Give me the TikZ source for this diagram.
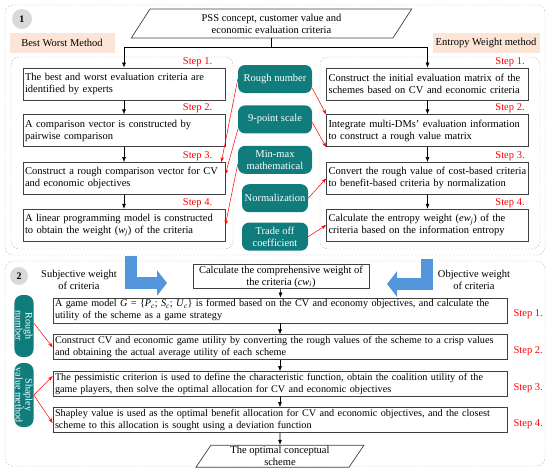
\documentclass[tikz,border=0pt]{standalone}
\usepackage{fontspec}
\setmainfont{Liberation Serif}
\usetikzlibrary{shapes.geometric,arrows.meta,positioning}
\definecolor{tealbox}{RGB}{16,124,124}
\definecolor{peach}{RGB}{252,229,214}
\definecolor{circgray}{RGB}{217,217,217}
\definecolor{panelgray}{RGB}{190,190,190}
\definecolor{arrowblue}{RGB}{84,150,220}
\definecolor{stepred}{RGB}{255,0,0}

\begin{document}
\begin{tikzpicture}[x=1pt, y=-1pt,
    font=\fontsize{10.5}{12}\selectfont,
    panel/.style={draw=panelgray, dash pattern=on 2pt off 1.5pt, rounded corners=8pt},
    stepbox/.style={rectangle, draw=black!75, line width=0.7pt, align=left,
        inner xsep=2pt, inner ysep=1pt, minimum height=32pt, text width=198pt},
    gamebox/.style={rectangle, draw=black!75, line width=0.8pt, align=left,
        inner xsep=2pt, inner ysep=1pt, minimum height=25pt, text width=450pt,
        font=\fontsize{10.2}{12}\selectfont},
    tealnode/.style={rectangle, rounded corners=7pt, fill=tealbox, text=white,
        align=center, inner sep=1pt, minimum height=28pt},
    pgram/.style={trapezium, trapezium left angle=63, trapezium right angle=117,
        trapezium stretches=true, draw=black!75, line width=0.7pt, align=center, inner sep=1pt},
    headlbl/.style={rectangle, fill=peach, inner sep=0pt, minimum height=20pt},
    numcirc/.style={circle, fill=circgray, minimum size=20pt, inner sep=0pt, font=\bfseries},
    steplbl/.style={text=stepred, inner sep=1pt},
    arr/.style={-{Latex[length=5pt,width=4pt]}, line width=0.6pt, black},
    rarr/.style={-{Stealth[length=5pt,width=3.5pt]}, line width=0.5pt, stepred},
    bluearr/.style={arrowblue, line width=12pt, line join=miter,
        -{Triangle[length=10pt,width=25pt]}}
]
    \useasboundingbox (0,0) rectangle (550,469);

    % Dashed panels
    \draw[panel] (5,5) rectangle (545,255);
    \draw[panel] (11,57) rectangle (233,249);
    \draw[panel] (320,57) rectangle (540,249);
    \draw[panel] (5,261) rectangle (545,466);

    % Part 1: headings
    \node[numcirc] (c1) at (22,19) {1};
    \node[headlbl, minimum width=105pt] (bwm) at (62,43) {Best Worst Method};
    \node[headlbl, minimum width=107pt] (ewm) at (486,43) {Entropy Weight method};
    \node[pgram, minimum width=281pt, minimum height=29pt] (pss) at (271.5,23.5)
        {PSS concept, customer value and\\economic evaluation criteria};

    % Best worst method column
    \node[stepbox] (L1) at (124,84) {The best and worst evaluation criteria are\\identified by experts};
    \node[stepbox, below=14pt of L1] (L2) {A comparison vector is constructed by\\pairwise comparison};
    \node[stepbox, below=15pt of L2] (L3) {Construct a rough comparison vector for CV\\and economic objectives};
    \node[stepbox, below=14pt of L3] (L4) {A linear programming model is constructed\\to obtain the weight (\textit{w}\textsubscript{\textit{j}}) of the criteria};

    \node[steplbl, anchor=south east] (sl1) at ([xshift=-12pt]L1.north east) {Step 1.};
    \node[steplbl, anchor=south east] (sl2) at ([xshift=-12pt]L2.north east) {Step 2.};
    \node[steplbl, anchor=south east] (sl3) at ([xshift=-12pt]L3.north east) {Step 3.};
    \node[steplbl, anchor=south east] (sl4) at ([xshift=-12pt]L4.north east) {Step 4.};

    % Entropy weight column
    \node[stepbox] (R1) at (427.5,84) {Construct the initial evaluation matrix of the\\schemes based on CV and economic criteria};
    \node[stepbox, below=14pt of R1] (R2) {Integrate multi-DMs' evaluation information\\to construct a rough value matrix};
    \node[stepbox, below=15pt of R2] (R3) {Convert the rough value of cost-based criteria\\to benefit-based criteria by normalization};
    \node[stepbox, below=14pt of R3] (R4) {Calculate the entropy weight (\textit{ew}\textsubscript{\textit{j}}) of the\\criteria based on the information entropy};

    \node[steplbl, anchor=south east] (sr1) at ([xshift=-3pt]R1.north east) {Step 1.};
    \node[steplbl, anchor=south east] (sr2) at ([xshift=-3pt]R2.north east) {Step 2.};
    \node[steplbl, anchor=south east] (sr3) at ([xshift=-3pt]R3.north east) {Step 3.};
    \node[steplbl, anchor=south east] (sr4) at ([xshift=-3pt]R4.north east) {Step 4.};

    \draw[arr] (pss.south) -- ++(0,9) -| (L1.north);
    \draw[arr] (pss.south) -- ++(0,9) -| (R1.north);
    \draw[arr] (L1) -- (L2);
    \draw[arr] (L2) -- (L3);
    \draw[arr] (L3) -- (L4);
    \draw[arr] (R1) -- (R2);
    \draw[arr] (R2) -- (R3);
    \draw[arr] (R3) -- (R4);

    % Tools in the middle
    \node[tealnode, minimum width=74pt] (rough) at (275,79) {Rough number};
    \node[tealnode, minimum width=74pt, below=12pt of rough] (ninept) {9-point scale};
    \node[tealnode, minimum width=74pt, below=12pt of ninept] (minmax) {Min-max\\mathematical};
    \node[tealnode, minimum width=66pt, below=10pt of minmax] (norm) {Normalization};
    \node[tealnode, minimum width=66pt, below=10pt of norm] (trade) {Trade off\\coefficient};

    \draw[rarr] (rough.west) -- ([xshift=-4pt]L3.north east);
    \draw[rarr] ([yshift=-10pt]ninept.west) -- ([yshift=4pt]L3.east);
    \draw[rarr] ([yshift=-4pt]minmax.west) -- (L4.east);
    \draw[rarr] ([yshift=-9pt]rough.east) -- (R2.north west);
    \draw[rarr] ([yshift=-3pt]ninept.east) -- (R2.south west);
    \draw[rarr] (norm.east) -- (R3.west);
    \draw[rarr] (trade.east) -- (R4.west);

    % Part 2: game model
    \node[numcirc, minimum size=18pt] (c2) at (19,276) {2};
    \node[align=center] (subj) at (79,280) {Subjective weight\\of criteria};
    \node[align=center] (obj) at (474,280) {Objective weight\\of criteria};
    \draw[bluearr] (131,256) -- (131,283) -- (167,283);
    \draw[bluearr] (427,259) -- (427,284) -- (387,284);

    \node[rectangle, draw=black!75, line width=0.7pt, align=center, inner sep=1pt,
        minimum width=176pt, minimum height=23pt] (comp) at (281,276.5)
        {Calculate the comprehensive weight of\\the criteria (\textit{cw}\textsubscript{\textit{i}})};

    \node[gamebox] (G1) at (280,310.5) {A game model \textit{G} = \{\textit{P}\textsubscript{\textit{c}}; \textit{S}\textsubscript{\textit{c}}; \textit{U}\textsubscript{\textit{c}}\} is formed based on the CV and economy objectives, and calculate the\\utility of the scheme as a game strategy};
    \node[gamebox, below=11pt of G1] (G2) {Construct CV and economic game utility by converting the rough values of the scheme to a crisp values\\and obtaining the actual average utility of each scheme};
    \node[gamebox, below=11pt of G2] (G3) {The pessimistic criterion is used to define the characteristic function, obtain the coalition utility of the\\game players, then solve the optimal allocation for CV and economic objectives};
    \node[gamebox, below=10pt of G3] (G4) {Shapley value is used as the optimal benefit allocation for CV and economic objectives, and the closest\\scheme to this allocation is sought using a deviation function};
    \node[pgram, minimum width=168pt, minimum height=22pt, below=12pt of G4] (opt)
        {The optimal conceptual\\scheme};

    \node[steplbl, anchor=west] (sg1) at ([xshift=5pt,yshift=-4pt]G1.east) {Step 1.};
    \node[steplbl, anchor=west] (sg2) at ([xshift=5pt,yshift=-4pt]G2.east) {Step 2.};
    \node[steplbl, anchor=west] (sg3) at ([xshift=5pt,yshift=-4pt]G3.east) {Step 3.};
    \node[steplbl, anchor=west] (sg4) at ([xshift=5pt,yshift=-4pt]G4.east) {Step 4.};

    \draw[arr] (comp) -- (G1);
    \draw[arr] (G1) -- (G2);
    \draw[arr] (G2) -- (G3);
    \draw[arr] (G3) -- (G4);
    \draw[arr] (G4) -- (opt);

    % Methods on the left
    \node[tealnode, rotate=-90, rounded corners=8pt, minimum width=62pt, minimum height=18pt,
        font=\fontsize{10}{9}\selectfont] (roughv) at (24,326) {Rough\\number};
    \node[tealnode, rotate=-90, rounded corners=8pt, minimum width=64pt, minimum height=18pt,
        font=\fontsize{10}{9}\selectfont] (shapv) at (24,395) {Shapley\\value method};

    \draw[rarr] ([yshift=3pt]roughv.north) -- (G2.west);
    \draw[rarr] (shapv.north) -- ([yshift=8pt]G3.west);
    \draw[rarr] (shapv.north) -- ([yshift=-3pt]G4.west);
\end{tikzpicture}
\end{document}
